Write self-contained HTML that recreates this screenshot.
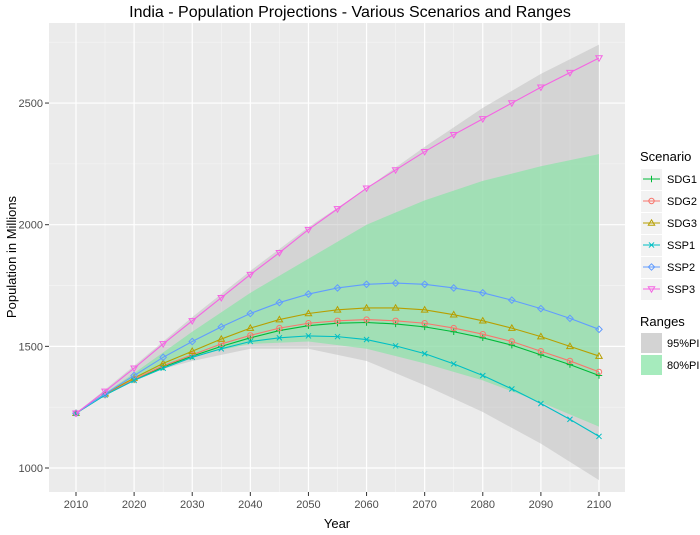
<!DOCTYPE html>
<html><head><meta charset="utf-8"><style>body{margin:0;background:#fff}svg{display:block;font-family:"Liberation Sans",Arial,sans-serif}</style></head>
<body><svg id="s" width="700" height="535" xmlns="http://www.w3.org/2000/svg"></svg>
<script>
const s=document.getElementById('s');
const X=y=>76+(y-2010)*523/90, Y=v=>468-(v-1000)*0.2433;
let h='<rect x="49" y="23" width="576" height="469" fill="#ebebeb"/>';
for(let y=2015;y<=2095;y+=10)h+=`<line x1="${X(y)}" x2="${X(y)}" y1="23" y2="492" stroke="#f6f6f6" stroke-width="0.6"/>`;
for(let v=1250;v<=2750;v+=500)h+=`<line y1="${Y(v)}" y2="${Y(v)}" x1="49" x2="625" stroke="#f6f6f6" stroke-width="0.6"/>`;
for(let y=2010;y<=2100;y+=10){h+=`<line x1="${X(y)}" x2="${X(y)}" y1="23" y2="492" stroke="#fff" stroke-width="1.2"/><line x1="${X(y)}" x2="${X(y)}" y1="492" y2="496" stroke="#333"/><text x="${X(y)}" y="508" font-size="11" text-anchor="middle" fill="#4d4d4d">${y}</text>`;}
for(let v=1000;v<=2500;v+=500){h+=`<line y1="${Y(v)}" y2="${Y(v)}" x1="49" x2="625" stroke="#fff" stroke-width="1.2"/><line y1="${Y(v)}" y2="${Y(v)}" x1="45" x2="49" stroke="#333"/><text x="43" y="${Y(v)+4}" font-size="11" text-anchor="end" fill="#4d4d4d">${v}</text>`;}
function band(yrs,lo,hi,c,o){let p=yrs.map((y,i)=>X(y)+','+Y(hi[i])).concat(yrs.map((y,i)=>X(y)+','+Y(lo[i])).reverse());return `<polygon points="${p.join(' ')}" fill="${c}" fill-opacity="${o}"/>`;}
const by=[2010,2020,2030,2040,2050,2060,2070,2080,2090,2100];
h+=band(by,[1225,1375,1440,1490,1490,1440,1340,1230,1100,950],[1225,1420,1620,1810,1990,2150,2320,2480,2620,2740],"#b8b8b8",0.45);
h+=band(by,[1225,1370,1460,1510,1520,1490,1430,1360,1270,1170],[1225,1390,1560,1720,1860,2000,2100,2180,2240,2290],"#7ee6a0",0.6);
const ser=[
["SDG1","#00BA38","+",[1225,1300,1362,1415,1460,1500,1535,1565,1585,1595,1598,1592,1580,1560,1535,1505,1465,1425,1380]],
["SDG2","#F8766D","o",[1225,1302,1365,1420,1465,1510,1545,1575,1595,1605,1610,1605,1595,1575,1550,1520,1480,1440,1395]],
["SDG3","#B79F00","^",[1225,1305,1370,1430,1480,1530,1575,1610,1635,1650,1658,1658,1650,1630,1605,1575,1540,1500,1460]],
["SSP1","#00BFC4","x",[1225,1300,1360,1410,1455,1490,1520,1535,1543,1540,1528,1502,1470,1428,1380,1325,1265,1200,1130]],
["SSP2","#619CFF","d",[1225,1305,1380,1455,1520,1580,1635,1680,1715,1740,1755,1760,1755,1740,1720,1690,1655,1615,1570]],
["SSP3","#F564E3","v",[1225,1315,1410,1510,1605,1700,1795,1885,1980,2065,2150,2225,2300,2370,2435,2500,2565,2625,2685]]];
function mk(t,x,y,c){const r=3.2;
if(t=="+")return `<path d="M${x-r} ${y}H${x+r}M${x} ${y-r}V${y+r}" stroke="${c}" fill="none"/>`;
if(t=="o")return `<circle cx="${x}" cy="${y}" r="${r-0.5}" stroke="${c}" fill="none"/>`;
if(t=="^")return `<path d="M${x} ${y-r}L${x+r} ${y+r*0.7}L${x-r} ${y+r*0.7}Z" stroke="${c}" fill="none"/>`;
if(t=="x")return `<path d="M${x-r*.8} ${y-r*.8}L${x+r*.8} ${y+r*.8}M${x+r*.8} ${y-r*.8}L${x-r*.8} ${y+r*.8}" stroke="${c}" fill="none"/>`;
if(t=="d")return `<path d="M${x} ${y-r}L${x+r} ${y}L${x} ${y+r}L${x-r} ${y}Z" stroke="${c}" fill="none"/>`;
return `<path d="M${x} ${y+r}L${x+r} ${y-r*0.7}L${x-r} ${y-r*0.7}Z" stroke="${c}" fill="none"/>`;}
ser.forEach(([n,c,t,d])=>{h+=`<polyline points="${d.map((v,i)=>X(2010+5*i)+','+Y(v)).join(' ')}" fill="none" stroke="${c}" stroke-width="1.1"/>`;d.forEach((v,i)=>h+=mk(t,X(2010+5*i),Y(v),c));});
h+=`<text x="350" y="17" font-size="16" text-anchor="middle" fill="#000">India - Population Projections - Various Scenarios and Ranges</text>`;
h+=`<text x="337" y="528" font-size="13" text-anchor="middle">Year</text>`;
h+=`<text transform="translate(16,257) rotate(-90)" font-size="13" text-anchor="middle">Population in Millions</text>`;
h+=`<text x="640" y="161" font-size="13">Scenario</text>`;
ser.forEach(([n,c,t],i)=>{const y=179+i*22;h+=`<rect x="641" y="${y-10}" width="21" height="21" fill="#f2f2f2"/><line x1="643" x2="660" y1="${y}" y2="${y}" stroke="${c}"/>${mk(t,651.5,y,c)}<text x="667" y="${y+4}" font-size="11">${n}</text>`;});
h+=`<text x="640" y="326" font-size="13">Ranges</text>`;
h+=`<rect x="641" y="333" width="21" height="20" fill="#d3d3d3"/><text x="667" y="347" font-size="11">95%PI</text>`;
h+=`<rect x="641" y="355" width="21" height="20" fill="#a6ebbd"/><text x="667" y="369" font-size="11">80%PI</text>`;
s.innerHTML=h;
</script></body></html>
